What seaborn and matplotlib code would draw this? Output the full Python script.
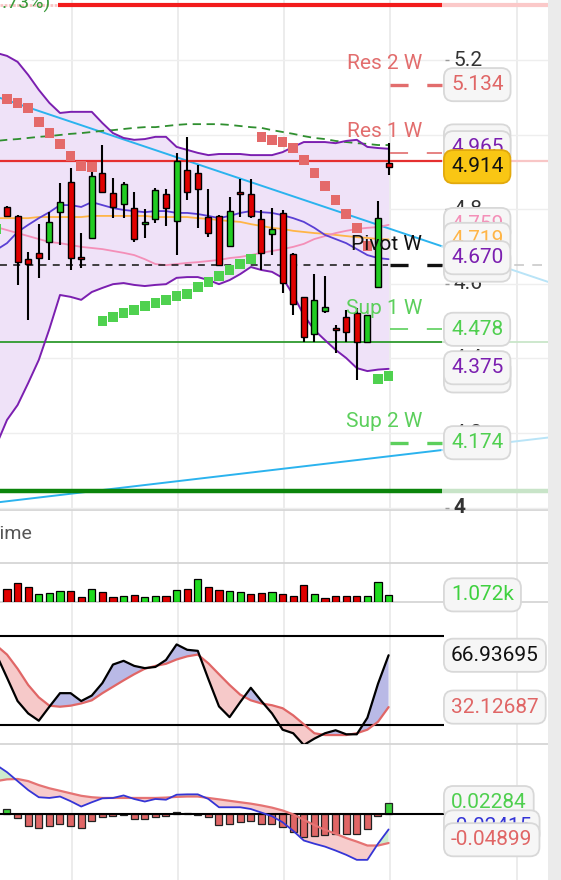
import numpy as np
import pandas as pd
import matplotlib
matplotlib.use("Agg")
import matplotlib.pyplot as plt
import seaborn as sns
from matplotlib.lines import Line2D
from matplotlib.patches import Rectangle

# ---------------- data ----------------
idx_all = np.arange(-1, 37)          # indicator samples (first one just off-screen)
idx = np.arange(0, 37)               # candles

opens = [4.806, 4.782, 4.666, 4.683, 4.712, 4.792, 4.873, 4.672, 4.723, 4.897, 4.843, 4.814, 4.803,
         4.760, 4.774, 4.841, 4.768, 4.905, 4.897, 4.779, 4.782, 4.701, 4.843, 4.841, 4.774, 4.734,
         4.790, 4.680, 4.565, 4.465, 4.527, 4.481, 4.511, 4.522, 4.444, 4.591, 4.924]
closes = [4.782, 4.658, 4.653, 4.669, 4.766, 4.819, 4.669, 4.666, 4.889, 4.846, 4.806, 4.868, 4.720,
          4.766, 4.851, 4.803, 4.929, 4.846, 4.854, 4.736, 4.650, 4.795, 4.841, 4.782, 4.683, 4.747,
          4.602, 4.546, 4.457, 4.557, 4.538, 4.476, 4.471, 4.444, 4.516, 4.776, 4.914]
highs = [4.809, 4.784, 4.685, 4.760, 4.792, 4.870, 4.910, 4.736, 4.905, 4.972, 4.884, 4.873, 4.846,
         4.801, 4.857, 4.854, 4.951, 4.994, 4.918, 4.854, 4.784, 4.833, 4.881, 4.881, 4.798, 4.803,
         4.798, 4.683, 4.565, 4.626, 4.621, 4.490, 4.530, 4.535, 4.516, 4.822, 4.977]
lows = [4.779, 4.597, 4.503, 4.616, 4.664, 4.704, 4.637, 4.642, 4.723, 4.846, 4.776, 4.776, 4.712,
        4.723, 4.763, 4.755, 4.677, 4.825, 4.750, 4.725, 4.650, 4.699, 4.779, 4.776, 4.637, 4.677,
        4.575, 4.516, 4.444, 4.444, 4.522, 4.414, 4.444, 4.342, 4.444, 4.591, 4.892]

bb_upper = [5.219, 5.211, 5.195, 5.160, 5.120, 5.085, 5.058, 5.061, 5.061, 5.061, 5.031, 5.004, 4.991,
            4.986, 4.988, 4.994, 4.994, 4.967, 4.959, 4.951, 4.945, 4.948, 4.948, 4.948, 4.945, 4.945,
            4.945, 4.953, 4.967, 4.980, 4.980, 4.980, 4.977, 4.983, 4.986, 4.967, 4.964, 4.962]
bb_lower = [4.168, 4.235, 4.275, 4.334, 4.396, 4.479, 4.570, 4.565, 4.557, 4.578, 4.589, 4.599, 4.602,
            4.597, 4.594, 4.597, 4.599, 4.616, 4.618, 4.618, 4.610, 4.599, 4.610, 4.626, 4.645, 4.637,
            4.632, 4.616, 4.570, 4.516, 4.476, 4.449, 4.423, 4.401, 4.374, 4.366, 4.370, 4.372]
bb_mid = [4.691, 4.709, 4.739, 4.758, 4.776, 4.792, 4.811, 4.811, 4.806, 4.819, 4.811, 4.803, 4.798,
          4.795, 4.792, 4.795, 4.795, 4.790, 4.790, 4.787, 4.782, 4.776, 4.782, 4.790, 4.795, 4.792,
          4.790, 4.784, 4.776, 4.766, 4.750, 4.731, 4.720, 4.709, 4.693, 4.677, 4.669, 4.666]
ma_orange = [4.776, 4.776, 4.776, 4.776, 4.779, 4.779, 4.779, 4.779, 4.779, 4.782, 4.782, 4.782, 4.782,
             4.782, 4.782, 4.779, 4.779, 4.779, 4.779, 4.776, 4.774, 4.771, 4.768, 4.766, 4.760, 4.755,
             4.750, 4.747, 4.742, 4.739, 4.736, 4.734, 4.731, 4.728, 4.725, 4.723, 4.720, 4.719]
ma_pink = [4.752, 4.744, 4.736, 4.728, 4.720, 4.712, 4.709, 4.704, 4.699, 4.696, 4.693, 4.688, 4.683,
           4.677, 4.666, 4.653, 4.650, 4.653, 4.656, 4.658, 4.661, 4.664, 4.669, 4.672, 4.677, 4.683,
           4.688, 4.693, 4.699, 4.707, 4.720, 4.728, 4.736, 4.742, 4.747, 4.750, 4.752, 4.758]
ma_green = [4.983, 4.986, 4.988, 4.991, 4.994, 4.996, 4.999, 5.002, 5.004, 5.007, 5.010, 5.012, 5.015,
            5.018, 5.020, 5.020, 5.023, 5.026, 5.028, 5.028, 5.028, 5.028, 5.026, 5.023, 5.020, 5.018,
            5.012, 5.007, 5.002, 4.996, 4.991, 4.988, 4.983, 4.980, 4.977, 4.975, 4.972, 4.972]
nan = np.nan
sar_red = [nan, 5.095, 5.085, 5.071, 5.034, 5.004, 4.975, 4.943, 4.916, 4.913] + [nan] * 15 + \
          [4.994, 4.986, 4.980, 4.964, 4.932, 4.897, 4.862, 4.825, 4.787, 4.750, 4.701, nan, nan]
sar_green = [4.747] + [nan] * 9 + \
            [4.500, 4.511, 4.522, 4.530, 4.540, 4.549, 4.557, 4.567, 4.573, 4.591, 4.605, 4.621,
             4.637, 4.653, 4.666] + [nan] * 11 + [4.345, 4.353]

trend_down_idx, trend_down_val = [0, 26], [5.092, 4.844]
trend_up_idx, trend_up_val = [0, 26], [4.017, 4.104]

level_top_red = 5.347
level_red = 4.929
level_green = 4.444
level_darkgreen = 4.044
pivot_names = ["Res 2 W", "Res 1 W", "Pivot W", "Sup 1 W", "Sup 2 W"]
pivot_vals = [5.134, 4.951, 4.650, 4.478, 4.174]

price_ticks = [5.2, 5.0, 4.8, 4.6, 4.4, 4.2, 4.0]
price_tick_labels = ["5.2", "5", "4.8", "4.6", "4.4", "4.2", "4"]

volume_k = [2.08, 2.94, 2.37, 1.25, 1.36, 1.64, 1.64, 0.68, 2.08, 1.53, 0.79, 0.96, 1.07, 0.68, 0.85,
            0.96, 1.80, 1.97, 3.68, 2.37, 1.80, 1.64, 1.53, 1.25, 1.41, 1.53, 1.25, 0.96, 2.65, 1.14,
            0.57, 0.85, 0.85, 0.96, 0.96, 3.22, 1.072]
volume_up = [0, 0, 0, 1, 1, 1, 0, 0, 1, 0, 0, 1, 0, 1, 1, 0, 1, 0, 1, 0, 0, 1, 1, 0, 0, 1, 0, 0, 0, 1,
             0, 0, 0, 0, 1, 1, 1]

stoch_k = [67.4, 51.9, 36.2, 27.9, 23.0, 32.4, 41.5, 41.5, 36.2, 39.9, 48.3, 60.7, 63.2, 59.8, 58.3,
           59.1, 63.8, 74.2, 70.6, 69.9, 50.9, 32.6, 25.4, 35.5, 45.1, 36.2, 27.9, 17.0, 14.6, 6.7,
           11.0, 14.6, 16.6, 13.9, 13.9, 25.0, 47.8, 66.94]
stoch_d = [73.5, 67.4, 57.9, 47.0, 38.7, 33.1, 32.4, 33.1, 34.6, 36.7, 41.5, 45.8, 50.1, 54.2, 57.9,
           59.8, 61.2, 64.1, 66.2, 67.4, 61.5, 54.2, 47.0, 40.5, 36.7, 34.6, 33.4, 31.4, 26.6, 20.6,
           14.6, 13.4, 13.4, 13.4, 14.6, 17.0, 22.3, 32.13]
stoch_levels = [80, 20]

macd_line = [0.0955, 0.0817, 0.0644, 0.0471, 0.0332, 0.0318, 0.0346, 0.0256, 0.0152, 0.0235, 0.0311,
             0.0318, 0.0367, 0.0298, 0.0249, 0.0298, 0.0284, 0.0381, 0.0388, 0.0388, 0.0298, 0.0138,
             0.0138, 0.0138, 0.0104, 0.0035, -0.0035, -0.0152, -0.0318, -0.0505, -0.0567, -0.0623,
             -0.0699, -0.0782, -0.0879, -0.0879, -0.0567, -0.0291]
macd_signal = [0.0644, 0.0678, 0.0685, 0.0644, 0.0567, 0.0505, 0.0457, 0.0408, 0.0360, 0.0332, 0.0318,
               0.0318, 0.0318, 0.0318, 0.0318, 0.0318, 0.0325, 0.0339, 0.0346, 0.0346, 0.0318, 0.0291,
               0.0263, 0.0235, 0.0208, 0.0173, 0.0131, 0.0076, 0.0, -0.0104, -0.0208, -0.0298,
               -0.0374, -0.0457, -0.0526, -0.0602, -0.0602, -0.0554]
macd_hist = [0.011, -0.007, -0.022, -0.0255, -0.022, -0.0188, -0.022, -0.0255, -0.0118, -0.0048,
             -0.0035, -0.0014, -0.0083, -0.0083, -0.0048, -0.0035, 0.004, 0.002, -0.0006, -0.0048,
             -0.0207, -0.0188, -0.0139, -0.0118, -0.0188, -0.0188, -0.0236, -0.0346, -0.0443, -0.0416,
             -0.0395, -0.0373, -0.0373, -0.0373, -0.029, -0.0035, 0.02284]

# ---------------- style ----------------
sns.set_theme(style="white")
plt.rcParams['font.family'] = ['Roboto', 'DejaVu Sans']
plt.rcParams['lines.scale_dashes'] = False
plt.rcParams['axes.unicode_minus'] = False

W, H = 561, 880
fig = plt.figure(figsize=(W / 100, H / 100), dpi=100)
fig.patch.set_facecolor('white')

PX = 10.6
X0 = -0.66
def px2x(px):
    return X0 + px / PX
XMAX = px2x(548)
XR = px2x(442)   # right end of the plotting zone (labels start there)

def add_ax(top, bottom, ylim):
    ax = fig.add_axes([0, 1 - bottom / H, 548 / W, (bottom - top) / H])
    ax.set_facecolor('none')
    ax.set_axis_off()
    ax.set_xlim(X0, XMAX)
    ax.set_ylim(*ylim)
    return ax

FS = 15
def label(ax, y, s, color, fc='#f6f6f6', ec='#d8d8d8', z=20, fs=FS):
    ax.text(px2x(451), y, s, color=color, fontsize=fs, ha='left', va='center', zorder=z,
            clip_on=False,
            bbox=dict(boxstyle='round,pad=0.34,rounding_size=0.45', fc=fc, ec=ec, lw=1.3))

# background elements at figure level
for gx in [72, 178, 284, 390, 517]:
    fig.add_artist(Line2D([gx / W, gx / W], [0, 1], color='#e9e9e9', lw=1.2, zorder=-2))
for sy in [510, 563, 601.5, 743.6]:
    fig.add_artist(Line2D([0, 548 / W], [1 - sy / H, 1 - sy / H], color='#d5d5d5', lw=1.3, zorder=-1))

# ---------------- main price panel ----------------
ax = add_ax(0, 510, (5.2 - 450 / 373, 5.2 + 60 / 373))
for t in price_ticks:
    ax.axhline(t, color='#eeeeee', lw=1.0, zorder=0)

# Bollinger band fill
ax.fill_between(idx_all, bb_lower, bb_upper, color='#efe2f8', lw=0, zorder=1)

# trend lines
for tx, tv in [(trend_down_idx, trend_down_val), (trend_up_idx, trend_up_val)]:
    slope = (tv[1] - tv[0]) / (tx[1] - tx[0])
    f = lambda x: tv[0] + slope * (x - tx[0])
    ax.plot([X0, XR], [f(X0), f(XR)], color='#2bb3ee', lw=1.4, zorder=3)
    ax.plot([XR, XMAX], [f(XR), f(XMAX)], color='#b9e4f7', lw=1.4, zorder=3)

# horizontal levels
ax.hlines(level_top_red, px2x(58), XR, color='#f21c1c', lw=3.0, zorder=3)
ax.hlines(level_top_red, X0, px2x(58), color='#f7c4c4', lw=2.0, linestyles=(0, (2, 1)), zorder=3)
ax.hlines(level_top_red, XR, XMAX, color='#fbc9c9', lw=3.0, zorder=3)
ax.hlines(level_red, X0, XR, color='#e53030', lw=1.6, zorder=3)
ax.hlines(level_red, XR, XMAX, color='#f8c6c6', lw=1.6, zorder=3)
ax.hlines(level_green, X0, XR, color='#2e9a2e', lw=1.3, zorder=3)
ax.hlines(level_green, XR, XMAX, color='#c9e6c9', lw=1.3, zorder=3)
ax.hlines(level_darkgreen, X0, XR, color='#0b850b', lw=3.2, zorder=3)
ax.hlines(level_darkgreen, XR, XMAX, color='#c8e4c8', lw=3.2, zorder=3)

# indicator lines
sns.lineplot(x=idx_all, y=ma_green, ax=ax, color='#2f8f2f', lw=1.3, linestyle=(0, (6, 4)), zorder=4)
sns.lineplot(x=idx_all, y=ma_orange, ax=ax, color='#ffb547', lw=1.3, zorder=4)
sns.lineplot(x=idx_all, y=ma_pink, ax=ax, color='#f48fb8', lw=1.3, zorder=4)
sns.lineplot(x=idx_all, y=bb_mid, ax=ax, color='#5a3fd4', lw=1.3, zorder=4)
sns.lineplot(x=idx_all, y=bb_upper, ax=ax, color='#7b1fb0', lw=1.4, zorder=4)
sns.lineplot(x=idx_all, y=bb_lower, ax=ax, color='#7b1fb0', lw=1.4, zorder=4)

# pivot line
ax.hlines(pivot_vals[2], X0, px2x(388), color='#222222', lw=1.2, linestyles=(0, (5, 4.5)), zorder=4)

# candles
o = np.array(opens); c = np.array(closes)
up = c >= o
ax.vlines(idx, lows, highs, color='black', lw=1.5, zorder=5)
body_h = np.maximum(np.abs(c - o), 0.004)
ax.bar(idx, body_h, bottom=np.minimum(o, c), width=0.55,
       color=np.where(up, '#22cc22', '#e00000'), edgecolor='black', lw=1.0, zorder=6)

# parabolic SAR
sns.scatterplot(x=idx_all, y=sar_red, ax=ax, marker='s', s=48, color='#e46a6a', edgecolor='none',
                zorder=7, legend=False)
sns.scatterplot(x=idx_all, y=sar_green, ax=ax, marker='s', s=48, color='#4fd14f', edgecolor='none',
                zorder=7, legend=False)

# weekly pivot markers + names
piv_colors = ['#e26d6d', '#e26d6d', '#111111', '#5ccf5c', '#5ccf5c']
piv_lw = [2.4, 1.2, 2.4, 1.2, 2.4]
for name, v, col, lw in zip(pivot_names, pivot_vals, piv_colors, piv_lw):
    ax.hlines(v, px2x(390), XR, color=col, lw=lw, linestyles=(0, (13, 13.5)), zorder=8)
    ax.text(px2x(422), v + 21 / 373, name, color=col, fontsize=FS, ha='right', va='center', zorder=9)
ax.hlines(pivot_vals[2], XR, XMAX, color='#c9c9c9', lw=1.2, linestyles=(0, (7, 6)), zorder=3)

# price ticks
for t, s in zip(price_ticks, price_tick_labels):
    ax.hlines(t, px2x(445), px2x(449), color='#999999', lw=1.0, zorder=9)
    ax.text(px2x(453), t, s, color='#333333', fontsize=FS, ha='left', va='center', zorder=10,
            fontweight='bold' if s == '4' else 'normal')

# value labels
label(ax, 5.134, '5.134', '#e06666', z=21)
label(ax, 4.983, '4.983', '#2f8f2f', z=22)
label(ax, 4.965, '4.965', '#7b1fb0', z=23)
label(ax, 4.914, '4.914', '#111111', fc='#f9c614', ec='#e2a90c', z=24)
label(ax, 4.650, '4.650', '#111111', z=21)
label(ax, 4.759, '4.759', '#f48fb8', z=22)
label(ax, 4.719, '4.719', '#ffb547', z=23)
label(ax, 4.670, '4.670', '#7b1fb0', z=24)
label(ax, 4.478, '4.478', '#4fcf4f', z=21)
label(ax, 4.353, '4.353', '#4fcf4f', z=21)
label(ax, 4.375, '4.375', '#7b1fb0', z=22)
label(ax, 4.174, '4.174', '#4fcf4f', z=21)

# ---------------- volume panel ----------------
axv = add_ax(563, 601.5, (0, 6.22))
vcol = np.where(np.array(volume_up) == 1, '#1fdc1f', '#e00000')
axv.bar(idx, volume_k, width=0.68, color=vcol, edgecolor='black', lw=0.9, zorder=3)
label(axv, 1.072, '1.072k', '#3fd13f', z=20)

# ---------------- stochastic panel ----------------
axs = add_ax(601.5, 743.6, (7.65, 103.02))
ks = np.array(stoch_k); ds = np.array(stoch_d)
axs.fill_between(idx_all, ks, ds, where=ks >= ds, interpolate=True, color='#b9b9e6', lw=0, zorder=1)
axs.fill_between(idx_all, ks, ds, where=ks < ds, interpolate=True, color='#f6c9c9', lw=0, zorder=1)
for lv in stoch_levels:
    axs.hlines(lv, X0, px2x(443.6), color='black', lw=1.5, zorder=2)
sns.lineplot(x=idx_all, y=stoch_d, ax=axs, color='#e06666', lw=1.6, zorder=3)
sns.lineplot(x=idx_all, y=stoch_k, ax=axs, color='black', lw=1.6, zorder=4)
label(axs, 66.94, '66.93695', '#111111', z=20)
label(axs, 32.13, '32.12687', '#e06666', z=20)

# ---------------- MACD panel ----------------
axm = add_ax(743.6, 880, (-65.6 / 517, 70.8 / 517))
mline = np.array(macd_line); msig = np.array(macd_signal)
axm.fill_between(idx_all, mline, msig, where=mline >= msig, interpolate=True, color='#cdeccd', lw=0, zorder=1)
axm.fill_between(idx_all, mline, msig, where=mline < msig, interpolate=True, color='#f7cccc', lw=0, zorder=1)
hcol = np.where(np.array(macd_hist) >= 0, '#3ccf3c', '#e06666')
axm.bar(idx, macd_hist, width=0.66, color=hcol, edgecolor='#222222', lw=0.9, zorder=3)
axm.hlines(0, X0, px2x(443.6), color='black', lw=1.5, zorder=4)
sns.lineplot(x=idx_all, y=macd_signal, ax=axm, color='#e57373', lw=1.6, zorder=5)
sns.lineplot(x=idx_all, y=macd_line, ax=axm, color='#3535d6', lw=1.3, zorder=6)
label(axm, 0.02284, '0.02284', '#4fcf4f', z=20)
label(axm, -0.02415, '-0.02415', '#3535d6', z=21)
label(axm, -0.04899, '-0.04899', '#e06666', z=22)

# ---------------- frame texts ----------------
fig.text(-11 / W, 1 - 534 / H, 'Time', color='#555555', fontsize=14, ha='left', va='center')
fig.text(50 / W, 1 - 9 / H, '+0.084 (+1.73%)', color='#3a9a3a', fontsize=14, ha='right', va='baseline')
fig.add_artist(Rectangle((548 / W, 0), 13 / W, 1, transform=fig.transFigure, fc='#ebebeb', ec='none',
                         zorder=30))

fig.savefig('out.png', dpi=100, facecolor='white')
